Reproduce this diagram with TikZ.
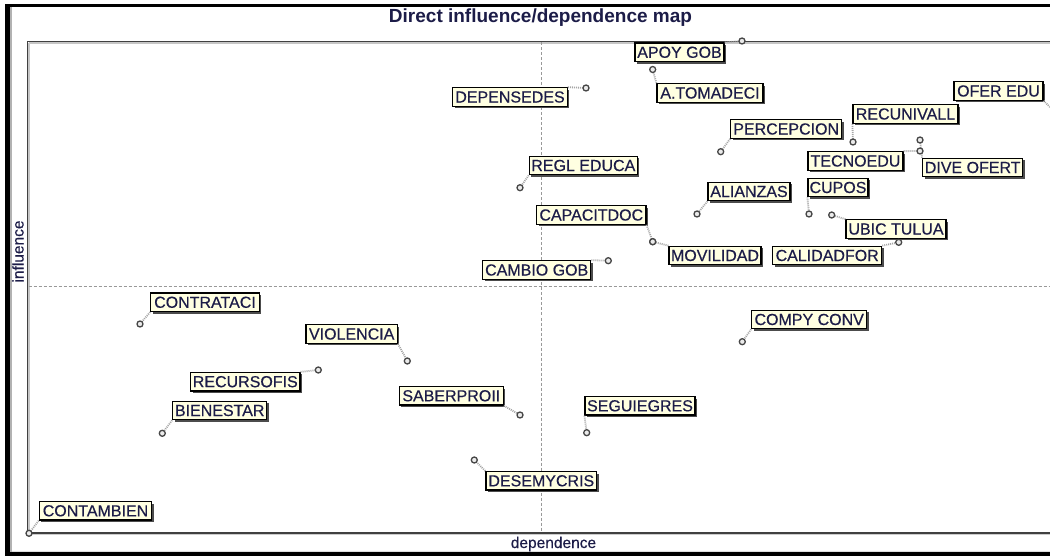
\documentclass[tikz,border=0pt]{standalone}
\usepackage{fontspec}
\setmainfont{Liberation Sans}
\newfontfamily\lblfont{Liberation Sans}[FakeBold=0.45]
\usetikzlibrary{shadows}
\definecolor{ink}{RGB}{28,28,72}
\definecolor{tip}{RGB}{255,255,225}
\definecolor{frame}{RGB}{64,64,64}
\tikzset{
  lbl/.style={draw=black, line width=1.2pt, fill=tip, text=ink,
    font=\lblfont\fontsize{16}{18}\selectfont, inner xsep=1pt, inner ysep=0pt,
    minimum height=18.5pt,
    general shadow={shadow xshift=2pt, shadow yshift=-2pt, fill=black!70}},
  pt/.style={circle, draw=black!72, line width=1.3pt, fill=black!8,
    inner sep=0pt, minimum size=6pt},
  lead/.style={draw=gray!70, line width=1.8pt, dash pattern=on 1pt off 1pt},
  cross/.style={draw=gray!80, line width=0.8pt, dash pattern=on 3pt off 2pt},
  axis/.style={text=ink, font=\lblfont\fontsize{15.5}{18}\selectfont, inner sep=0pt}
}
\begin{document}
\begin{tikzpicture}[x=1pt,y=-1pt]
\useasboundingbox (0,0) rectangle (1050,556);
\clip (0,0) rectangle (1050,556);
\fill[white] (0,0) rectangle (1050,556);

% window frame
\fill[black] (5,4) rectangle (1050,7.3);
\fill[black] (5,4) rectangle (10,556);
\fill[black] (5,551.7) rectangle (1050,556);
\fill[gray!60] (10,7.3) rectangle (12,551.7);
\fill[gray!25] (12,550.5) rectangle (1050,551.7);

% title and axis names
\node[anchor=base, text=ink, inner sep=0pt, font=\fontsize{19}{22}\selectfont\bfseries]
  (title) at (540.5,22.5) {Direct influence/dependence map};
\node[axis, anchor=base] (xname) at (553.5,548) {dependence};
\node[axis, anchor=base, rotate=90] (yname) at (23.5,251.5) {influence};

% plot area
\draw[gray!45, line width=1.3pt] (29,43) -- (1060,43);
\draw[gray!45, line width=1.3pt] (29,43) -- (29,534.5);
\draw[frame, line width=1.4pt] (27.6,533) -- (27.6,41.6) -- (1060,41.6);
\draw[frame, line width=1.6pt] (27.6,533) -- (1060,533);
\draw[gray!40, line width=0.8pt] (27.6,534.5) -- (1060,534.5);

% quadrant lines
\draw[cross] (541,42.5) -- (541,532);
\draw[cross] (28.5,286) -- (1060,286);

% variable positions
\coordinate (p-apoy) at (742,41);
\coordinate (p-atom) at (652.7,69.5);
\coordinate (p-depen) at (586,88);
\coordinate (p-ofer) at (1057,114);
\coordinate (p-recun) at (853,142);
\coordinate (p-percep) at (720.7,151.7);
\coordinate (p-tecno) at (920,151);
\coordinate (p-dive) at (920,140);
\coordinate (p-cupos) at (809,214);
\coordinate (p-alian) at (697,214);
\coordinate (p-ubic) at (831.7,215);
\coordinate (p-calid) at (898.7,242.3);
\coordinate (p-movil) at (652.7,241.7);
\coordinate (p-capac) at (652.7,241.7);
\coordinate (p-cambio) at (608.3,260.7);
\coordinate (p-regl) at (520,187.7);
\coordinate (p-contra) at (140,324);
\coordinate (p-viol) at (407.3,361);
\coordinate (p-recur) at (318.3,370);
\coordinate (p-bien) at (162.3,433.3);
\coordinate (p-saber) at (520,415);
\coordinate (p-segui) at (586.7,432.7);
\coordinate (p-desem) at (474.3,460);
\coordinate (p-compy) at (742.3,341.7);
\coordinate (p-contam) at (29,533.3);

% labels
\node[lbl, minimum width=89pt]  (apoy)   at (679.5,52.3)  {APOY GOB};
\node[lbl, minimum width=106pt] (atom)   at (710,93)      {A.TOMADECI};
\node[lbl, minimum width=114.6pt] (depen) at (510,97)     {DEPENSEDES};
\node[lbl, minimum width=89pt]  (ofer)   at (998.5,91)    {OFER EDU};
\node[lbl, minimum width=105pt] (recun)  at (905.5,114)   {RECUNIVALL};
\node[lbl, minimum width=111pt] (percep) at (786.2,129)   {PERCEPCION};
\node[lbl, minimum width=95pt]  (tecno)  at (855.5,161)   {TECNOEDU};
\node[lbl, minimum width=100pt] (dive)   at (972.7,167.5) {DIVE OFERT};
\node[lbl, minimum width=60pt]  (cupos)  at (838,187.5)   {CUPOS};
\node[lbl, minimum width=82pt]  (alian)  at (749,191.5)   {ALIANZAS};
\node[lbl, minimum width=100pt] (ubic)   at (896,229)     {UBIC TULUA};
\node[lbl, minimum width=109pt] (calid)  at (827.2,255.5) {CALIDADFOR};
\node[lbl, minimum width=92pt]  (movil)  at (715,255.5)   {MOVILIDAD};
\node[lbl, minimum width=109.3pt] (capac) at (591.3,215)  {CAPACITDOC};
\node[lbl, minimum width=108pt] (cambio) at (536.7,270)   {CAMBIO GOB};
\node[lbl, minimum width=108pt] (regl)   at (583.3,165.5) {REGL EDUCA};
\node[lbl, minimum width=108.6pt] (contra) at (205,302.3) {CONTRATACI};
\node[lbl, minimum width=91.3pt] (viol)  at (351.7,334)   {VIOLENCIA};
\node[lbl, minimum width=109.3pt] (recur) at (245.3,381.7) {RECURSOFIS};
\node[lbl, minimum width=94pt]  (bien)   at (219.7,410.5) {BIENESTAR};
\node[lbl, minimum width=104pt] (saber)  at (451.3,395.8) {SABERPROII};
\node[lbl, minimum width=110pt] (segui)  at (640,405.8)   {SEGUIEGRES};
\node[lbl, minimum width=110.7pt] (desem) at (541.3,480.8) {DESEMYCRIS};
\node[lbl, minimum width=115pt] (compy)  at (809.2,319.5) {COMPY CONV};
\node[lbl, minimum width=112.4pt] (contam) at (95.5,510.8) {CONTAMBIEN};

% leader lines from each label to its position
\draw[lead] (apoy.north east) -- (p-apoy);
\draw[lead] (atom.north west) -- (p-atom);
\draw[lead] (depen.north east) -- (p-depen);
\draw[lead] (ofer.south east) -- (p-ofer);
\draw[lead] (recun.south west) -- (p-recun);
\draw[lead] (percep.south west) -- (p-percep);
\draw[lead] (tecno.north east) -- (p-tecno);
\draw[lead] (dive.north west) -- (p-dive);
\draw[lead] (cupos.south west) -- (p-cupos);
\draw[lead] (alian.south west) -- (p-alian);
\draw[lead] (ubic.north west) -- (p-ubic);
\draw[lead] (calid.north east) -- (p-calid);
\draw[lead] (movil.north west) -- (p-movil);
\draw[lead] (capac.south east) -- (p-capac);
\draw[lead] (cambio.north east) -- (p-cambio);
\draw[lead] (regl.south west) -- (p-regl);
\draw[lead] (contra.south west) -- (p-contra);
\draw[lead] (viol.south east) -- (p-viol);
\draw[lead] (recur.north east) -- (p-recur);
\draw[lead] (bien.south west) -- (p-bien);
\draw[lead] (saber.south east) -- (p-saber);
\draw[lead] (segui.south west) -- (p-segui);
\draw[lead] (desem.north west) -- (p-desem);
\draw[lead] (compy.south west) -- (p-compy);
\draw[lead] (contam.south west) -- (p-contam);

% position markers
\foreach \p in {apoy,atom,depen,ofer,recun,percep,tecno,dive,cupos,alian,ubic,
  calid,movil,capac,cambio,regl,contra,viol,recur,bien,saber,segui,desem,compy,contam}
  \node[pt] (m-\p) at (p-\p) {};
\end{tikzpicture}
\end{document}
